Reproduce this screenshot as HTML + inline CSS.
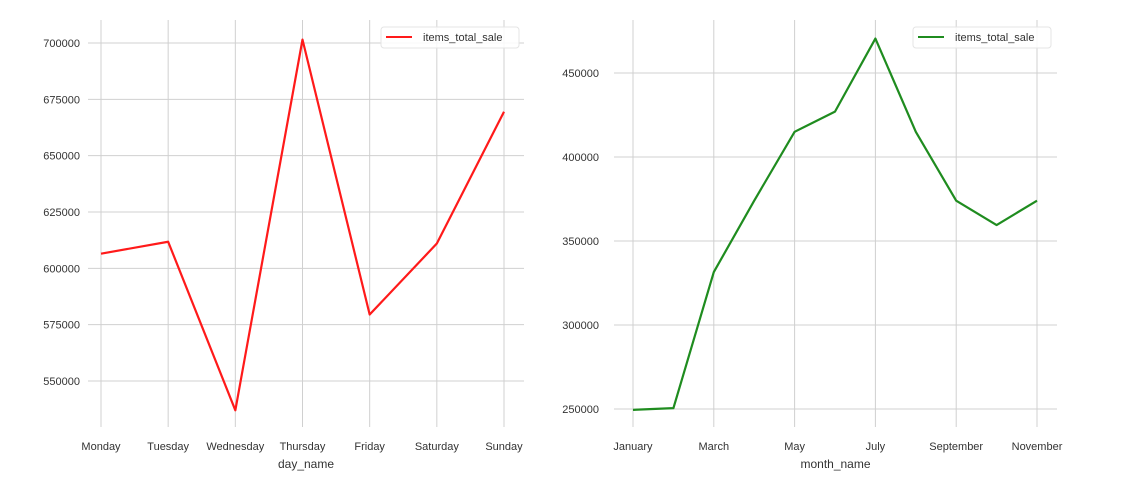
<!DOCTYPE html>
<html><head><meta charset="utf-8"><style>
body{margin:0;background:#fff}
svg{display:block;font-family:"Liberation Sans",Arial,sans-serif}
</style></head><body>
<svg id="c" width="1135" height="494"></svg>
<script>
const days=["Monday","Tuesday","Wednesday","Thursday","Friday","Saturday","Sunday"];
const daySales=[606500,611800,537000,701500,579500,611000,669500];
const dayTicks=[550000,575000,600000,625000,650000,675000,700000];
const months=["January","February","March","April","May","June","July","August","September","October","November"];
const monthSales=[249500,250500,331500,374000,415000,427000,470500,415000,374000,359500,374000];
const monthTicks=[250000,300000,350000,400000,450000];
const monthLabelIdx=[0,2,4,6,8,10];
const NS="http://www.w3.org/2000/svg";
const svg=document.getElementById("c");
function mk(t,a,p){const e=document.createElementNS(NS,t);for(const k in a)e.setAttribute(k,a[k]);(p||svg).appendChild(e);return e;}
function panel(o){
  const g=mk("g",{});
  
  
  const n=o.cats.length;
  const x=i=>o.x0+(o.x1-o.x0)*i/(n-1);
  const y=v=>o.y0+(v-o.v0)*(o.y1-o.y0)/(o.v1-o.v0);
  o.ticks.forEach(t=>{
    const l=mk("line",{x1:o.gl,x2:o.gr,y1:y(t),y2:y(t),stroke:"#d0d0d0","stroke-width":1},g);
    
    const tx=mk("text",{x:o.gl-o.gap,y:y(t)+4,"text-anchor":"end","font-size":11,fill:"#333"},g);
    tx.textContent=t;
    
  });
  o.labelIdx.forEach(i=>{
    const l=mk("line",{x1:x(i),x2:x(i),y1:20,y2:427,stroke:"#d0d0d0","stroke-width":1},g);
    
    const tx=mk("text",{x:x(i),y:450,"text-anchor":"middle","font-size":11,fill:"#333"},g);
    tx.textContent=o.cats[i];
    
  });
  const pts=o.vals.map((v,i)=>x(i)+","+y(v)).join(" ");
  const pl=mk("polyline",{points:pts,fill:"none",stroke:o.color,"stroke-width":2.2,"stroke-linejoin":"round"},g);
  
  const xt=mk("text",{x:(o.gl+o.gr)/2,y:468,"text-anchor":"middle","font-size":12,fill:"#333"},g);
  xt.textContent=o.xlabel;
  
  const lg=mk("g",{},g);
  
  mk("rect",{x:o.lx,y:27,width:138,height:21,rx:3,fill:"#fff","fill-opacity":0.85,stroke:"#e4e4e4"},lg);
  mk("line",{x1:o.lx+5,x2:o.lx+31,y1:37,y2:37,stroke:o.color,"stroke-width":2},lg);
  const lt=mk("text",{x:o.lx+42,y:41,"font-size":11,fill:"#333"},lg);
  lt.textContent="items_total_sale";
}
panel({name:"day-chart",cats:days,vals:daySales,ticks:dayTicks,labelIdx:[0,1,2,3,4,5,6],x0:101,x1:504,gl:88,gr:524,gap:8,v0:700000,y0:43,v1:550000,y1:381,color:"#ff1a1a",xlabel:"day_name",lx:381});
panel({name:"month-chart",cats:months,vals:monthSales,ticks:monthTicks,labelIdx:monthLabelIdx,x0:633,x1:1037,gl:614,gr:1057,gap:15,v0:450000,y0:73,v1:250000,y1:409,color:"#1f8c1f",xlabel:"month_name",lx:913});
</script>
</body></html>
